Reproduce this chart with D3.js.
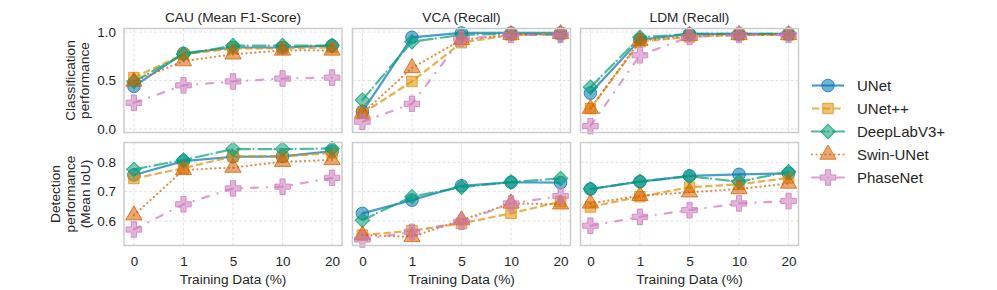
<!doctype html>
<html>
<head>
<script src="https://cdn.jsdelivr.net/npm/d3@7"></script>
</head>
<body style="margin:0px;background:#fff">
<script>

// ---- data ----
var trainPct = ["0", "1", "5", "10", "20"];
var models = ["UNet", "UNet++", "DeepLabV3+", "Swin-UNet", "PhaseNet"];
var panelTitles = ["CAU (Mean F1-Score)", "VCA (Recall)", "LDM (Recall)"];
var topTicks = [0.0, 0.5, 1.0];
var bottomTicks = [0.6, 0.7, 0.8];

// classification (top row), one array per model
var cauCls = [
  [0.44, 0.78, 0.84, 0.84, 0.86],
  [0.53, 0.77, 0.83, 0.83, 0.84],
  [0.49, 0.77, 0.86, 0.86, 0.86],
  [0.49, 0.70, 0.77, 0.81, 0.81],
  [0.27, 0.45, 0.49, 0.52, 0.53]
];
var vcaCls = [
  [0.18, 0.945, 0.99, 0.99, 0.99],
  [0.16, 0.49, 0.89, 0.97, 0.98],
  [0.30, 0.90, 0.97, 0.98, 0.97],
  [0.16, 0.63, 0.92, 0.97, 0.98],
  [0.075, 0.26, 0.93, 0.97, 0.97]
];
var ldmCls = [
  [0.37, 0.92, 0.98, 0.98, 0.98],
  [0.21, 0.90, 0.95, 0.97, 0.97],
  [0.43, 0.945, 0.98, 0.98, 0.98],
  [0.21, 0.91, 0.96, 0.97, 0.97],
  [0.03, 0.76, 0.95, 0.97, 0.97]
];

// detection (bottom row)
var cauDet = [
  [0.757, 0.804, 0.819, 0.820, 0.838],
  [0.745, 0.780, 0.820, 0.820, 0.832],
  [0.776, 0.808, 0.845, 0.845, 0.847],
  [0.620, 0.774, 0.782, 0.802, 0.808],
  [0.571, 0.657, 0.711, 0.717, 0.747]
];
var vcaDet = [
  [0.626, 0.671, 0.720, 0.732, 0.731],
  [0.552, 0.567, 0.592, 0.626, 0.666],
  [0.603, 0.683, 0.715, 0.733, 0.745],
  [0.552, 0.546, 0.603, 0.660, 0.657],
  [0.537, 0.563, 0.597, 0.660, 0.685]
];
var ldmDet = [
  [0.709, 0.734, 0.754, 0.759, 0.762],
  [0.648, 0.683, 0.715, 0.725, 0.747],
  [0.709, 0.735, 0.752, 0.734, 0.768],
  [0.660, 0.686, 0.698, 0.709, 0.728],
  [0.584, 0.614, 0.637, 0.660, 0.668]
];

// ---- style ----
var colors = ["#0173b2", "#de8f05", "#029e73", "#d55e00", "#cc78bc"];
var dashes = [null, "7.4,3.2", "12.8,3.2,0.1,5", "0.1,4.4", "7,9,0.1,9"];
var caps = ["butt", "butt", "round", "round", "round"];
var shapes = ["circle", "square", "diamond", "triangle", "plus"];
var font = "'Liberation Sans', Arial, sans-serif";
var ink = "#262626";

var W = 997, H = 290;
var svg = d3.select("body").append("svg").attr("width", W).attr("height", H)
  .style("font-family", font);

var panelW = 218;
var colX = [124, 352.5, 580.5];
var rowY = [28.5, 142.5];
var rowH = [104, 103];
var rowDomain = [[-0.036, 1.036], [0.5166, 0.8675]];
var rowTicks = [topTicks, bottomTicks];
var rowData = [[cauCls, vcaCls, ldmCls], [cauDet, vcaDet, ldmDet]];

function markerPath(shape) {
  if (shape == "circle") return d3.symbol(d3.symbolCircle, 125)();
  if (shape == "square") return d3.symbol(d3.symbolSquare, 110)();
  if (shape == "diamond") return d3.symbol(d3.symbolSquare, 105)();
  if (shape == "triangle") return d3.symbol(d3.symbolTriangle, 115)();
  return d3.symbol(d3.symbolCross, 135)();
}

function drawMarker(g, shape, color, x, y) {
  g.append("path")
    .attr("d", markerPath(shape))
    .attr("transform", "translate(" + x + "," + y + ")" + (shape == "diamond" ? " rotate(45)" : ""))
    .attr("fill", color)
    .attr("fill-opacity", 0.55)
    .attr("stroke", color)
    .attr("stroke-opacity", 0.75)
    .attr("stroke-width", 1);
}

for (var r = 0; r < 2; r++) {
  for (var c = 0; c < 3; c++) {
    var g = svg.append("g").attr("transform", "translate(" + colX[c] + "," + rowY[r] + ")");
    var x = d3.scalePoint().domain(trainPct).range([0, panelW]).padding(0.2);
    var y = d3.scaleLinear().domain(rowDomain[r]).range([rowH[r], 0]);

    // grid
    g.selectAll(".vg").data(trainPct).enter().append("line")
      .attr("x1", function(d){ return x(d); }).attr("x2", function(d){ return x(d); })
      .attr("y1", 0).attr("y2", rowH[r])
      .attr("stroke", "#dcdcdc").attr("stroke-width", 0.8).attr("stroke-dasharray", "3,2");
    g.selectAll(".hg").data(rowTicks[r]).enter().append("line")
      .attr("x1", 0).attr("x2", panelW)
      .attr("y1", function(d){ return y(d); }).attr("y2", function(d){ return y(d); })
      .attr("stroke", "#dcdcdc").attr("stroke-width", 0.8).attr("stroke-dasharray", "3,2");

    // lines + markers
    var data = rowData[r][c];
    var line = d3.line().x(function(d, i){ return x(trainPct[i]); }).y(function(d){ return y(d); });
    for (var m = 0; m < models.length; m++) {
      g.append("path")
        .attr("d", line(data[m]))
        .attr("fill", "none")
        .attr("stroke", colors[m])
        .attr("stroke-opacity", 0.7)
        .attr("stroke-width", 2.2)
        .attr("stroke-linecap", caps[m])
        .attr("stroke-dasharray", dashes[m]);
      for (var i = 0; i < trainPct.length; i++) {
        drawMarker(g, shapes[m], colors[m], x(trainPct[i]), y(data[m][i]));
      }
    }

    // frame
    g.append("rect").attr("width", panelW).attr("height", rowH[r])
      .attr("fill", "none").attr("stroke", "#cccccc").attr("stroke-width", 1.5);

    // y ticks only on first column
    if (c == 0) {
      var ya = d3.axisLeft(y).tickValues(rowTicks[r]).tickSize(0).tickPadding(8)
        .tickFormat(d3.format(".1f"));
      g.append("g").call(ya).call(function(s){
        s.select(".domain").remove();
        s.selectAll("text").attr("fill", ink).style("font-size", "13.5px").style("font-family", font);
      });
    }
    // x ticks on bottom row
    if (r == 1) {
      var xa = d3.axisBottom(x).tickSize(0).tickPadding(11);
      g.append("g").attr("transform", "translate(0," + rowH[r] + ")").call(xa).call(function(s){
        s.select(".domain").remove();
        s.selectAll("text").attr("fill", ink).style("font-size", "13.5px").style("font-family", font);
      });
      g.append("text").attr("x", panelW / 2).attr("y", rowH[r] + 38)
        .attr("text-anchor", "middle").attr("fill", ink).style("font-size", "13.7px")
        .text("Training Data (%)");
    }
    if (r == 0) {
      g.append("text").attr("x", panelW / 2).attr("y", -7)
        .attr("text-anchor", "middle").attr("fill", ink).style("font-size", "13.7px")
        .text(panelTitles[c]);
    }
  }
}

// y labels
function yLabel(lines, cx, cy) {
  var t = svg.append("text").attr("transform", "translate(" + cx + "," + cy + ") rotate(-90)")
    .attr("text-anchor", "middle").attr("fill", ink).style("font-size", "13.7px");
  var n = lines.length;
  lines.forEach(function(s, i){
    t.append("tspan").attr("x", 0).attr("y", (i - (n - 1) / 2) * 14.8 + 5).text(s);
  });
}
yLabel(["Classification", "performance"], 77, 80.5);
yLabel(["Detection", "performance", "(Mean IoU)"], 70, 194);

// legend
var leg = svg.append("g");
models.forEach(function(name, m){
  var ly = 85.5 + m * 23;
  leg.append("line").attr("x1", 812).attr("x2", 844).attr("y1", ly).attr("y2", ly)
    .attr("stroke", colors[m]).attr("stroke-opacity", 0.7).attr("stroke-width", 2.2)
    .attr("stroke-linecap", caps[m])
    .attr("stroke-dasharray", dashes[m]);
  drawMarker(leg, shapes[m], colors[m], 828, ly);
  leg.append("text").attr("x", 857).attr("y", ly + 5.5).attr("fill", ink)
    .style("font-size", "15px").text(name);
});

</script>
</body>
</html>
